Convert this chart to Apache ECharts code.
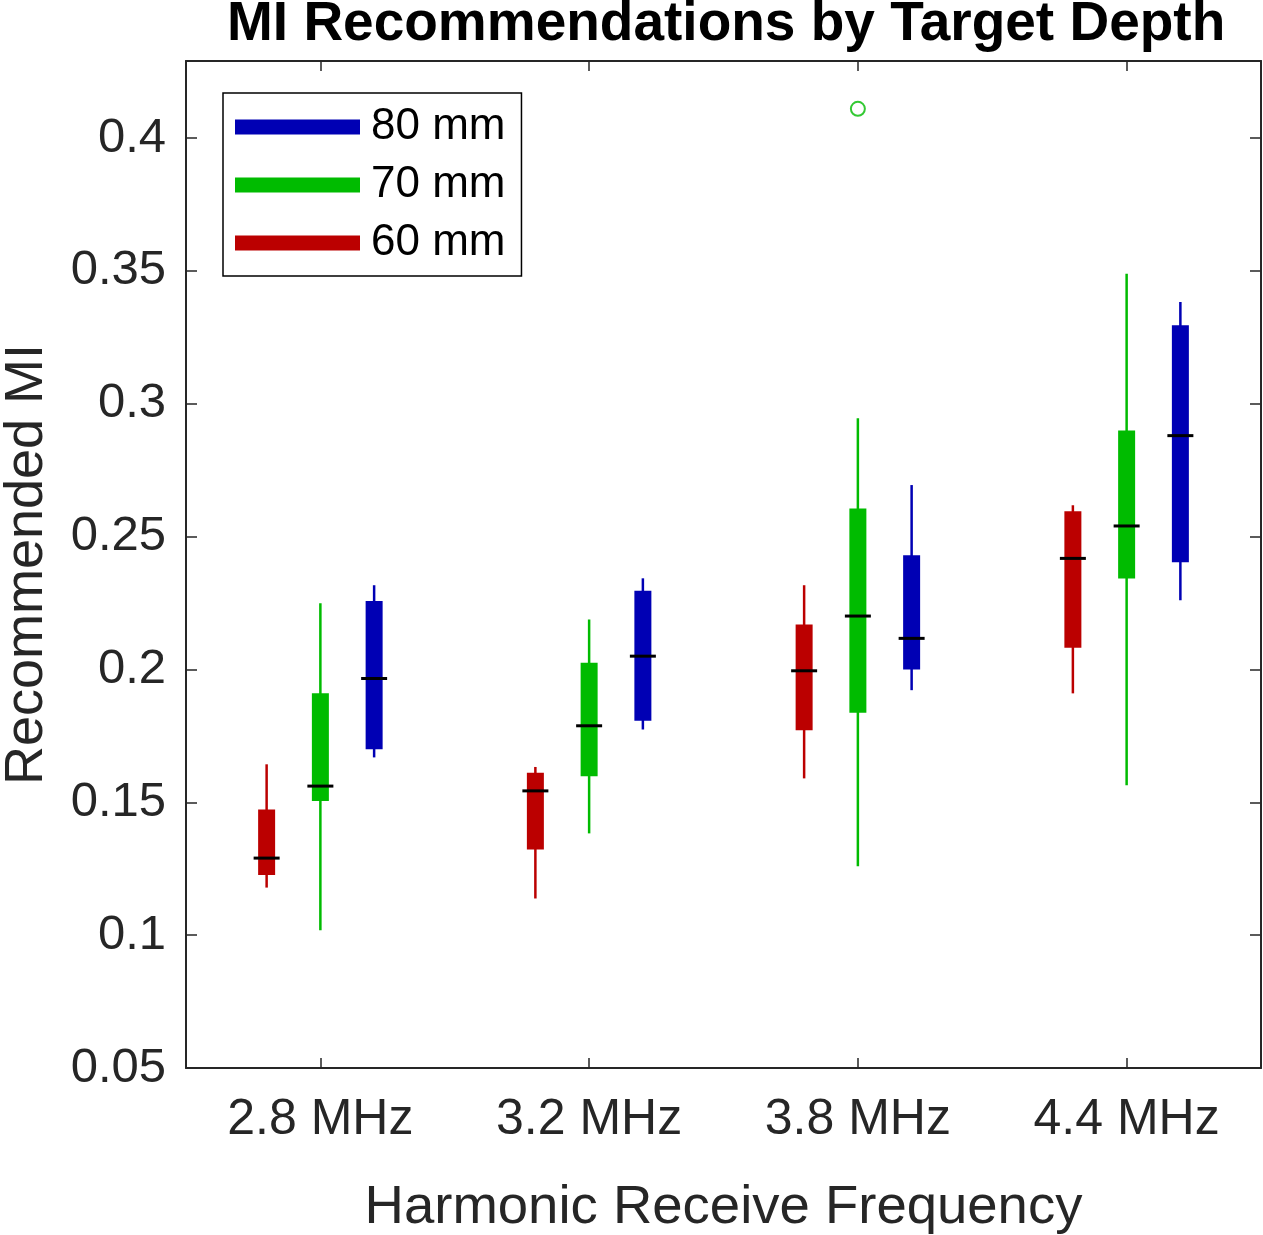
<!DOCTYPE html>
<html>
<head>
<meta charset="utf-8">
<script src="https://cdn.jsdelivr.net/npm/echarts@6/dist/echarts.min.js"></script>
<style>
html,body{margin:0;padding:0;background:#fff;}
#chart{width:1263px;height:1235px;}
</style>
</head>
<body>
<div id="chart"></div>
<script>
// ---- data ----
const categories = ['2.8 MHz', '3.2 MHz', '3.8 MHz', '4.4 MHz'];
const seriesNames = ['80 mm', '70 mm', '60 mm'];
// each row: [lower whisker, q1, median, q3, upper whisker]
const mm80 = [
  [0.1669, 0.1700, 0.1966, 0.2258, 0.2317],
  [0.1774, 0.1807, 0.2050, 0.2296, 0.2343],
  [0.1922, 0.2000, 0.2117, 0.2430, 0.2694],
  [0.2260, 0.2403, 0.2880, 0.3295, 0.3383]
];
const mm70 = [
  [0.1018, 0.1505, 0.1561, 0.1910, 0.2249],
  [0.1383, 0.1598, 0.1788, 0.2025, 0.2188],
  [0.1259, 0.1837, 0.2201, 0.2606, 0.2945],
  [0.1564, 0.2342, 0.2540, 0.2899, 0.3489]
];
const mm60 = [
  [0.1179, 0.1226, 0.1290, 0.1473, 0.1643],
  [0.1138, 0.1322, 0.1543, 0.1611, 0.1633],
  [0.1590, 0.1771, 0.1995, 0.2169, 0.2317],
  [0.1910, 0.2082, 0.2418, 0.2595, 0.2618]
];
// outliers: [category index, value]
const outliers70 = [[2, 0.411]];
const yMin = 0.05, yMax = 0.429, yStep = 0.05;

// ---- styling ----
const FONT = 'Liberation Sans, Arial, Helvetica, sans-serif';
const TXT = '#262626';
const colors = { '80 mm': '#0000b4', '70 mm': '#00bb00', '60 mm': '#bb0000' };
const offsets = { '80 mm': 0.2, '70 mm': 0, '60 mm': -0.2 };
const sets = { '80 mm': mm80, '70 mm': mm70, '60 mm': mm60 };

function makeRender(name) {
  const color = colors[name];
  const offFrac = offsets[name];
  return function (params, api) {
    const idx = api.value(0);
    const band = api.size([1, 0])[0];
    const off = band * offFrac;
    const pLo = api.coord([idx, api.value(1)]);
    const pQ1 = api.coord([idx, api.value(2)]);
    const pMed = api.coord([idx, api.value(3)]);
    const pQ3 = api.coord([idx, api.value(4)]);
    const pHi = api.coord([idx, api.value(5)]);
    const cx = pLo[0] + off;
    const bw = 17, mw = 26;
    return {
      type: 'group',
      children: [
        { type: 'line', shape: { x1: cx, y1: pLo[1], x2: cx, y2: pHi[1] },
          style: { stroke: color, lineWidth: 2.5 } },
        { type: 'rect', shape: { x: cx - bw / 2, y: pQ3[1], width: bw, height: pQ1[1] - pQ3[1] },
          style: { fill: color } },
        { type: 'line', shape: { x1: cx - mw / 2, y1: pMed[1], x2: cx + mw / 2, y2: pMed[1] },
          style: { stroke: '#000', lineWidth: 3 } }
      ]
    };
  };
}

const series = seriesNames.map(name => ({
  name: name,
  type: 'custom',
  renderItem: makeRender(name),
  itemStyle: { color: colors[name] },
  encode: { x: 0, y: [1, 2, 3, 4, 5] },
  data: sets[name].map((r, i) => [i].concat(r)),
  z: 3
}));
series.push({
  name: 'outliers',
  type: 'scatter',
  symbol: 'emptyCircle',
  symbolSize: 14,
  itemStyle: { color: colors['70 mm'], borderWidth: 2 },
  data: outliers70,
  z: 4
});

function yLabel(v) {
  const k = v / yStep;
  if (Math.abs(k - Math.round(k)) > 1e-6) return '';
  return String(+v.toFixed(2));
}

const axisLineStyle = { color: TXT, width: 2 };
const chart = echarts.init(document.getElementById('chart'), null, { renderer: 'canvas' });
chart.setOption({
  animation: false,
  backgroundColor: '#fff',
  textStyle: { fontFamily: FONT },
  title: {
    text: 'MI Recommendations by Target Depth',
    left: 227, top: -3,
    padding: 0,
    textStyle: { fontFamily: FONT, fontSize: 55, fontWeight: 'bold', color: '#000' }
  },
  legend: {
    data: seriesNames,
    orient: 'vertical',
    left: 223, top: 93,
    icon: 'rect',
    itemWidth: 125, itemHeight: 15,
    itemGap: 0,
    padding: [5, 16, 4, 12],
    borderColor: '#000', borderWidth: 1.5,
    backgroundColor: '#fff',
    textStyle: { fontFamily: FONT, fontSize: 44, color: '#000', lineHeight: 58, padding: [0, 0, 0, 6] },
    selectedMode: false
  },
  grid: { left: 186, right: 2, top: 61, bottom: 167, containLabel: false, outerBoundsMode: 'none' },
  xAxis: [{
    type: 'category',
    data: categories,
    boundaryGap: true,
    axisLine: { show: true, lineStyle: axisLineStyle },
    axisTick: { show: true, inside: true, alignWithLabel: true, length: 10, lineStyle: { color: TXT, width: 1.5 } },
    axisLabel: { fontFamily: FONT, fontSize: 50, color: TXT, margin: 27 },
    splitLine: { show: false },
    name: 'Harmonic Receive Frequency',
    nameLocation: 'middle',
    nameGap: 112,
    nameTextStyle: { fontFamily: FONT, fontSize: 54.5, color: TXT }
  }, {
    type: 'category',
    position: 'top',
    data: categories,
    boundaryGap: true,
    axisLine: { show: true, lineStyle: axisLineStyle },
    axisTick: { show: true, inside: true, alignWithLabel: true, length: 10, lineStyle: { color: TXT, width: 1.5 } },
    axisLabel: { show: false },
    splitLine: { show: false }
  }],
  yAxis: [{
    type: 'value',
    min: yMin, max: yMax, interval: yStep,
    axisLine: { show: true, lineStyle: axisLineStyle },
    axisTick: { show: true, inside: true, length: 11, lineStyle: { color: TXT, width: 1.5 } },
    axisLabel: { fontFamily: FONT, fontSize: 49, color: TXT, margin: 20, formatter: yLabel, showMaxLabel: false },
    splitLine: { show: false },
    name: 'Recommended MI',
    nameLocation: 'middle',
    nameRotate: 90,
    nameGap: 132,
    nameTextStyle: { fontFamily: FONT, fontSize: 54, color: TXT }
  }, {
    type: 'value',
    position: 'right',
    min: yMin, max: yMax, interval: yStep,
    axisLine: { show: true, lineStyle: axisLineStyle },
    axisTick: { show: true, inside: true, length: 11, lineStyle: { color: TXT, width: 1.5 } },
    axisLabel: { show: false },
    splitLine: { show: false }
  }],
  series: series
});
</script>
</body>
</html>
